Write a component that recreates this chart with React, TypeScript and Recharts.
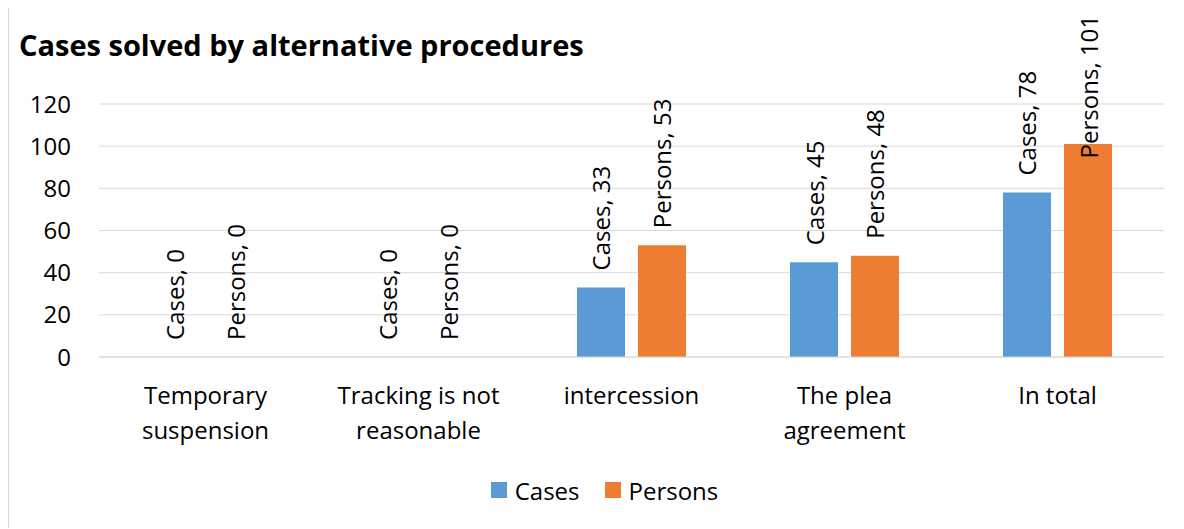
import { BarChart, Bar, XAxis, YAxis, CartesianGrid, Legend } from 'recharts';

const CATEGORIES = ['Temporary suspension', 'Tracking is not reasonable', 'intercession', 'The plea agreement', 'In total'];
const CASES = [0, 0, 33, 45, 78];
const PERSONS = [0, 0, 53, 48, 101];
const Y_TICKS = [0, 20, 40, 60, 80, 100, 120];

const SERIES = [
  { key: 'Cases', color: '#5B9BD5', values: CASES },
  { key: 'Persons', color: '#ED7D31', values: PERSONS },
];

const FONT = '"Open Sans", sans-serif';

const data = CATEGORIES.map((category, i) => ({
  category,
  Cases: CASES[i],
  Persons: PERSONS[i],
}));

let ctx: CanvasRenderingContext2D | null = null;
function measure(s: string) {
  if (!ctx) ctx = document.createElement('canvas').getContext('2d');
  if (!ctx) return s.length * 12;
  ctx.font = `24px ${FONT}`;
  return ctx.measureText(s).width;
}

// greedy word wrap, like Excel does for long category names
function wrap(s: string, max: number) {
  const lines: string[] = [];
  let cur = '';
  for (const w of s.split(' ')) {
    const next = cur ? cur + ' ' + w : w;
    if (cur && measure(next) > max) {
      lines.push(cur);
      cur = w;
    } else cur = next;
  }
  if (cur) lines.push(cur);
  return lines;
}

// rotated "Series, value" label above the bar; pushed down if it would leave the chart
function makeLabel(name: string) {
  return (props: any) => {
    const { x, y, width, value } = props;
    const text = `${name}, ${value}`;
    const cx = x + width / 2;
    const len = measure(text);
    const bottom = y - 17;
    const clamped = bottom - len < 8;
    const ty = clamped ? 8 : bottom;
    return (
      <text
        x={cx}
        y={ty}
        transform={`rotate(-90, ${cx}, ${ty})`}
        textAnchor={clamped ? 'end' : 'start'}
        dominantBaseline="central"
        fontFamily={FONT}
        fontSize={24}
        fill="#000"
      >
        {text}
      </text>
    );
  };
}

function CategoryTick(props: any) {
  const { x, y, payload } = props;
  const lines = wrap(payload.value, 175);
  return (
    <text x={x} y={y + 21} textAnchor="middle" fontFamily={FONT} fontSize={24} fill="#000">
      {lines.map((l, i) => (
        <tspan key={i} x={x} dy={i === 0 ? 18 : 35}>
          {l}
        </tspan>
      ))}
    </text>
  );
}

function LegendContent() {
  return (
    <div
      style={{
        display: 'flex',
        justifyContent: 'center',
        alignItems: 'center',
        height: 30,
        paddingLeft: 36,
        position: 'relative',
        top: -2,
        fontFamily: FONT,
        fontSize: 24,
      }}
    >
      {SERIES.map((s, i) => (
        <div key={s.key} style={{ display: 'flex', alignItems: 'center', marginLeft: i ? 25 : 0 }}>
          <span style={{ width: 16, height: 16, background: s.color, display: 'inline-block', marginRight: 8 }} />
          <span>{s.key}</span>
        </div>
      ))}
    </div>
  );
}

export default function App() {
  return (
    <div
      style={{
        position: 'relative',
        marginTop: -2,
        width: 1170,
        height: 521,
        borderTop: '1px solid #d9d9d9',
        borderLeft: '1px solid #d9d9d9',
        background: '#fff',
      }}
    >
      <div
        style={{
          position: 'absolute',
          left: 10,
          top: 19,
          fontFamily: FONT,
          fontWeight: 700,
          fontSize: 29,
          lineHeight: '38px',
          color: '#000',
          whiteSpace: 'nowrap',
        }}
      >
        Cases solved by alternative procedures
      </div>
      <BarChart
        width={1168}
        height={518}
        data={data}
        margin={{ top: 97, right: 13, bottom: 18, left: 0 }}
        barCategoryGap={52}
        barGap={13}
      >
        <CartesianGrid vertical={false} stroke="#d9d9d9" />
        <XAxis
          dataKey="category"
          height={120}
          tickLine={false}
          axisLine={{ stroke: '#d9d9d9' }}
          tick={<CategoryTick />}
          interval={0}
        />
        <YAxis
          width={90}
          domain={[0, 120]}
          ticks={Y_TICKS}
          axisLine={false}
          tickLine={false}
          tickMargin={22}
          tick={{ fontFamily: FONT, fontSize: 24, fill: '#000' }}
        />
        <Legend verticalAlign="bottom" content={<LegendContent />} />
        {SERIES.map((s) => (
          <Bar
            key={s.key}
            dataKey={s.key}
            fill={s.color}
            minPointSize={0.01}
            isAnimationActive={false}
            label={makeLabel(s.key)}
          />
        ))}
      </BarChart>
    </div>
  );
}
